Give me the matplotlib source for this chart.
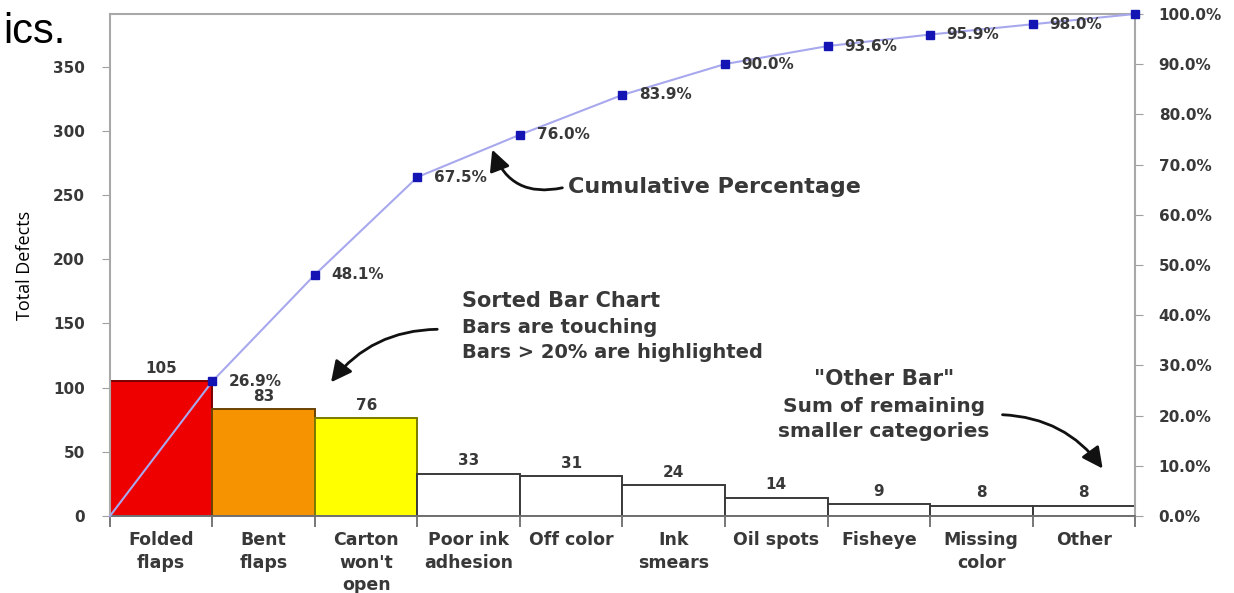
import numpy as np
import matplotlib.pyplot as plt
from matplotlib.patches import FancyArrowPatch

# defect counts, already sorted high to low, last bucket = everything else
categories = ['Folded\nflaps', 'Bent\nflaps', 'Carton\nwon\'t\nopen', 'Poor ink\nadhesion',
              'Off color', 'Ink\nsmears', 'Oil spots', 'Fisheye', 'Missing\ncolor', 'Other']
defects = [105, 83, 76, 33, 31, 24, 14, 9, 8, 8]
bar_colors = ['#ee0000', '#f59300', '#ffff00'] + ['white'] * 7
edge_colors = ['#7a0000', '#6b4200', '#7a7a00'] + ['#3a3a3a'] * 7

left_ticks = [0, 50, 100, 150, 200, 250, 300, 350]
right_ticks = np.arange(0, 1.01, 0.1)

total = sum(defects)
cum = np.cumsum(defects) / total

txt = '#383838'
bold = dict(family='DejaVu Sans', weight='bold', color=txt)

fig = plt.figure(figsize=(12.34, 5.93), dpi=100)
ax = fig.add_axes([0.0891, 0.1298, 0.8307, 0.8466])

x = np.arange(len(defects))
ax.bar(x, defects, width=1.0, align='edge', color=bar_colors,
       edgecolor=edge_colors, linewidth=1.4, zorder=2)
for i, v in enumerate(defects):
    ax.annotate(str(v), (i + 0.5, v), xytext=(0, 4), textcoords='offset points',
                ha='center', va='bottom', fontsize=11, **bold)

ax.set_xlim(0, len(defects))
ax.set_ylim(0, total)
ax.set_yticks(left_ticks)
ax.set_yticklabels([str(t) for t in left_ticks], fontsize=11, **bold)
ax.tick_params(axis='y', length=6, color='#a0a0a0', pad=12)

# category names sit under bar centres, tick marks on the bar boundaries
ax.set_xticks(x + 0.5)
ax.set_xticklabels(categories, fontsize=12.5, linespacing=1.3, **bold)
ax.tick_params(axis='x', which='major', length=0, pad=11)
ax.set_xticks(np.arange(len(defects) + 1), minor=True)
ax.tick_params(axis='x', which='minor', length=8, color='#606060', width=1.2)

ax.set_ylabel('Total Defects', family='Open Sans', fontsize=13, color='black', labelpad=14)

for s in ['left', 'top', 'right']:
    ax.spines[s].set_color('#a8a8a8')
    ax.spines[s].set_linewidth(1.5)
ax.spines['bottom'].set_color('#707070')
ax.spines['bottom'].set_linewidth(1.4)

# cumulative percentage on the right axis
ax2 = ax.twinx()
ax2.set_ylim(0, 1)
cx = np.concatenate([[0], x + 1])
cy = np.concatenate([[0], cum])
ax2.plot(cx, cy, color='#a8a8ee', linewidth=1.5, zorder=3, clip_on=False)
ax2.plot(x + 1, cum, linestyle='none', marker='s', markersize=6,
         color='#1414b4', zorder=4, clip_on=False)
for xi, c in zip(x[:-1] + 1, cum[:-1]):
    ax2.annotate(f'{c * 100:.1f}%', (xi, c), xytext=(12, 0), textcoords='offset points',
                 ha='left', va='center', fontsize=11, **bold)
ax2.set_yticks(right_ticks)
ax2.set_yticklabels([f'{t * 100:.1f}%' for t in right_ticks], fontsize=11, **bold)
ax2.tick_params(axis='y', length=6, color='#a0a0a0', pad=11)
for s in ax2.spines.values():
    s.set_visible(False)

# callouts
ax.text(0.447, 0.655, 'Cumulative Percentage', transform=ax.transAxes,
        ha='left', va='center', fontsize=16, **bold)
ax.text(0.343, 0.428, 'Sorted Bar Chart', transform=ax.transAxes,
        ha='left', va='center', fontsize=15, **bold)
ax.text(0.343, 0.375, 'Bars are touching', transform=ax.transAxes,
        ha='left', va='center', fontsize=14, **bold)
ax.text(0.343, 0.325, 'Bars > 20% are highlighted', transform=ax.transAxes,
        ha='left', va='center', fontsize=14, **bold)
ax.text(0.755, 0.272, '"Other Bar"', transform=ax.transAxes,
        ha='center', va='center', fontsize=15.5, **bold)
ax.text(0.755, 0.218, 'Sum of remaining', transform=ax.transAxes,
        ha='center', va='center', fontsize=14.5, **bold)
ax.text(0.755, 0.168, 'smaller categories', transform=ax.transAxes,
        ha='center', va='center', fontsize=14.5, **bold)

arrows = [((0.444, 0.655), (0.372, 0.735), -0.45),
          ((0.322, 0.372), (0.214, 0.262), 0.25),
          ((0.868, 0.202), (0.970, 0.090), -0.25)]
for start, end, rad in arrows:
    ax.add_patch(FancyArrowPatch(start, end, transform=ax.transAxes,
                                 connectionstyle=f'arc3,rad={rad}',
                                 arrowstyle='-|>,head_length=0.9,head_width=0.45',
                                 mutation_scale=14, linewidth=2, color='#111111',
                                 zorder=5, clip_on=False))

# tail of the slide heading in the top-left corner
fig.text(65 / 1234, 1 - 43 / 593, 'ics.', ha='right', va='baseline',
         family='Liberation Sans', fontsize=30, color='black')

fig.savefig('out.png', dpi=100, facecolor='white')
